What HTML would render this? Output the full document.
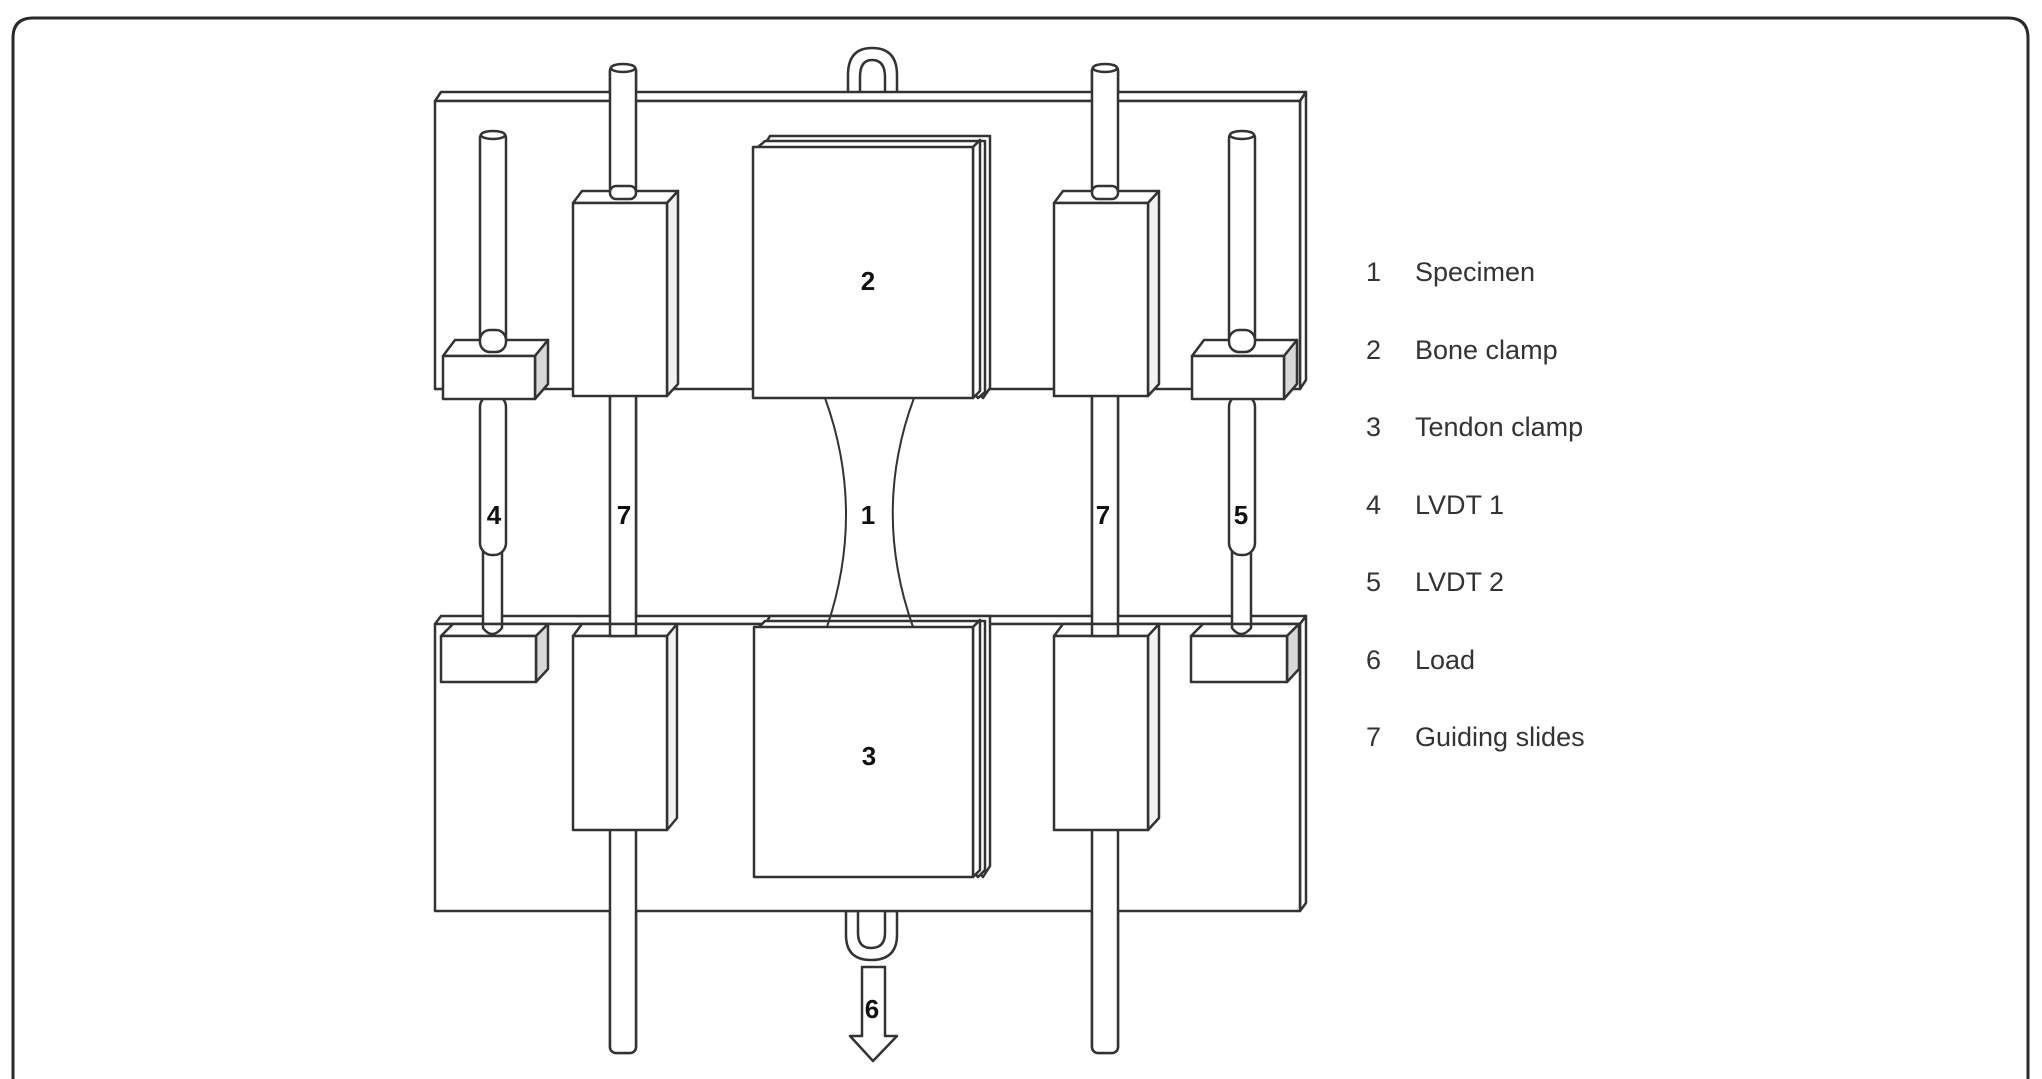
<!DOCTYPE html>
<html><head><meta charset="utf-8"><style>
html,body{margin:0;padding:0;background:#fff;}
svg{display:block;}
text{font-family:"Liberation Sans",sans-serif;}
</style></head><body>
<svg width="2042" height="1079" viewBox="0 0 2042 1079" xmlns="http://www.w3.org/2000/svg">
<g fill="none" stroke="#2a2a2a" stroke-width="2.5">
<!-- frame -->
<path d="M13,1079 L13,38 Q13,18 33,18 L2008,18 Q2028,18 2028,38 L2028,1079" stroke-width="3"/>
</g>
<g stroke="#333" stroke-width="2.5" fill="#fff" stroke-linejoin="round">
<!-- rods 7 full length behind -->
<rect x="610" y="65" width="26" height="988" rx="6"/>
<rect x="1092" y="65" width="26" height="988" rx="6"/>
<!-- top hook -->
<path d="M848,98 L848,75 Q848,48 872,48 Q897,48 897,75 L897,98 L885,98 L885,77 Q885,60 872,60 Q860,60 860,77 L860,98 Z"/>
<!-- top plate -->
<path d="M435,101 L441,92 L1306,92 L1300,101 Z"/>
<path d="M1300,101 L1306,92 L1306,380 L1300,389 Z"/>
<rect x="435" y="101" width="865" height="288"/>
<!-- bottom hook -->
<path d="M846,911 L846,935 Q846,960 871,960 Q897,960 897,935 L897,911 L885,911 L885,933 Q885,948 871,948 Q858,948 858,933 L858,911 Z"/>
<!-- bottom plate -->
<path d="M435,624 L441,616 L1306,616 L1300,624 Z"/>
<path d="M1300,624 L1306,616 L1306,903 L1300,911 Z"/>
<rect x="435" y="624" width="865" height="287"/>
<!-- rod segments over plates -->
<rect x="610" y="65" width="26" height="130" rx="6"/>
<ellipse cx="623" cy="68" rx="12" ry="4"/>
<rect x="1092" y="65" width="26" height="130" rx="6"/>
<ellipse cx="1105" cy="68" rx="12" ry="4"/>
<rect x="610" y="392" width="26" height="236"/>
<rect x="1092" y="392" width="26" height="236"/>
<rect x="610" y="826" width="26" height="227" rx="6"/>
<rect x="1092" y="826" width="26" height="227" rx="6"/>
<!-- rod 4 -->
<rect x="480" y="132" width="26" height="212" rx="6"/>
<ellipse cx="493" cy="135" rx="12" ry="4"/>
<rect x="483" y="540" width="19" height="92" rx="8"/>
<rect x="480" y="395" width="26" height="160" rx="12"/>
<!-- rod 5 -->
<rect x="1229" y="132" width="26" height="212" rx="6"/>
<ellipse cx="1242" cy="135" rx="12" ry="4"/>
<rect x="1232" y="540" width="19" height="92" rx="8"/>
<rect x="1229" y="395" width="26" height="160" rx="12"/>
<!-- slide blocks upper -->
<path d="M573,203 L582,191 L678,191 L667,203 Z"/>
<path d="M667,203 L678,191 L678,384 L667,396 Z" fill="#f2f2f2"/>
<rect x="573" y="203" width="94" height="193"/>
<path d="M1054,203 L1063,191 L1159,191 L1148,203 Z"/>
<path d="M1148,203 L1159,191 L1159,384 L1148,396 Z" fill="#f2f2f2"/>
<rect x="1054" y="203" width="94" height="193"/>
<rect x="610" y="186" width="26" height="13" rx="6"/>
<rect x="1092" y="186" width="26" height="13" rx="6"/>
<!-- slide blocks lower -->
<path d="M573,636 L582,624 L677,624 L667,636 Z"/>
<path d="M667,636 L677,624 L677,818 L667,830 Z" fill="#f2f2f2"/>
<rect x="573" y="636" width="94" height="194"/>
<path d="M1054,636 L1063,624 L1159,624 L1148,636 Z"/>
<path d="M1148,636 L1159,624 L1159,818 L1148,830 Z" fill="#f2f2f2"/>
<rect x="1054" y="636" width="94" height="194"/>
<rect x="610" y="624" width="26" height="12" fill="#fff"/>
<rect x="1092" y="624" width="26" height="12" fill="#fff"/>
<!-- LVDT blocks upper -->
<path d="M443,356 L455,340 L548,340 L535,356 Z"/>
<path d="M535,356 L548,340 L548,384 L535,399 Z" fill="#d8d8d8"/>
<rect x="443" y="356" width="92" height="43"/>
<rect x="480" y="330" width="26" height="22" rx="10"/>
<path d="M1192,356 L1204,340 L1297,340 L1284,356 Z"/>
<path d="M1284,356 L1297,340 L1297,384 L1284,399 Z" fill="#d8d8d8"/>
<rect x="1192" y="356" width="92" height="43"/>
<rect x="1229" y="330" width="26" height="22" rx="10"/>
<!-- LVDT blocks lower -->
<path d="M441,636 L453,624 L548,624 L536,636 Z"/>
<path d="M536,636 L548,624 L548,669 L536,682 Z" fill="#d8d8d8"/>
<rect x="441" y="636" width="95" height="46"/>
<path d="M483,624 L483,624 L502,624 L502,628 Q492,640 483,628 Z"/>
<path d="M1191,636 L1203,624 L1299,624 L1287,636 Z"/>
<path d="M1287,636 L1299,624 L1299,669 L1287,682 Z" fill="#d8d8d8"/>
<rect x="1191" y="636" width="96" height="46"/>
<path d="M1232,624 L1251,624 L1251,628 Q1241,640 1232,628 Z"/>
<!-- clamp 2 -->
<path d="M763,147 L770,136 L990,136 L990,388 L983,398 Z"/>
<path d="M758,147 L765,141 L985,141 L985,392 L978,398 Z"/>
<path d="M973,147 L980,140 L980,391 L973,398 Z"/>
<rect x="753" y="147" width="220" height="251"/>
<!-- clamp 3 -->
<path d="M764,627 L770,616 L990,616 L990,866 L983,877 Z"/>
<path d="M759,627 L765,621 L985,621 L985,870 L978,877 Z"/>
<path d="M973,627 L980,620 L980,870 L973,877 Z"/>
<rect x="754" y="627" width="219" height="250"/>
<!-- arrow -->
<path d="M862,967 L885,967 L885,1036 L897,1036 L873,1061 L850,1036 L862,1036 Z"/>
</g>
<!-- specimen -->
<g fill="none" stroke="#333" stroke-width="2">
<path d="M825,398 Q866,511 827,627"/>
<path d="M914,398 Q872,511 913,627"/>
</g>
<g font-weight="bold" font-size="26" fill="#111" text-anchor="middle">
<text x="868" y="290">2</text>
<text x="869" y="765">3</text>
<text x="868" y="524">1</text>
<text x="494" y="524">4</text>
<text x="624" y="524">7</text>
<text x="1103" y="524">7</text>
<text x="1241" y="524">5</text>
<text x="872" y="1018">6</text>
</g>
<g font-size="27" fill="#333">
<text x="1366" y="281">1</text><text x="1415" y="281">Specimen</text>
<text x="1366" y="359">2</text><text x="1415" y="359">Bone clamp</text>
<text x="1366" y="436">3</text><text x="1415" y="436">Tendon clamp</text>
<text x="1366" y="514">4</text><text x="1415" y="514">LVDT 1</text>
<text x="1366" y="591">5</text><text x="1415" y="591">LVDT 2</text>
<text x="1366" y="669">6</text><text x="1415" y="669">Load</text>
<text x="1366" y="746">7</text><text x="1415" y="746">Guiding slides</text>
</g>
</svg>
</body></html>
